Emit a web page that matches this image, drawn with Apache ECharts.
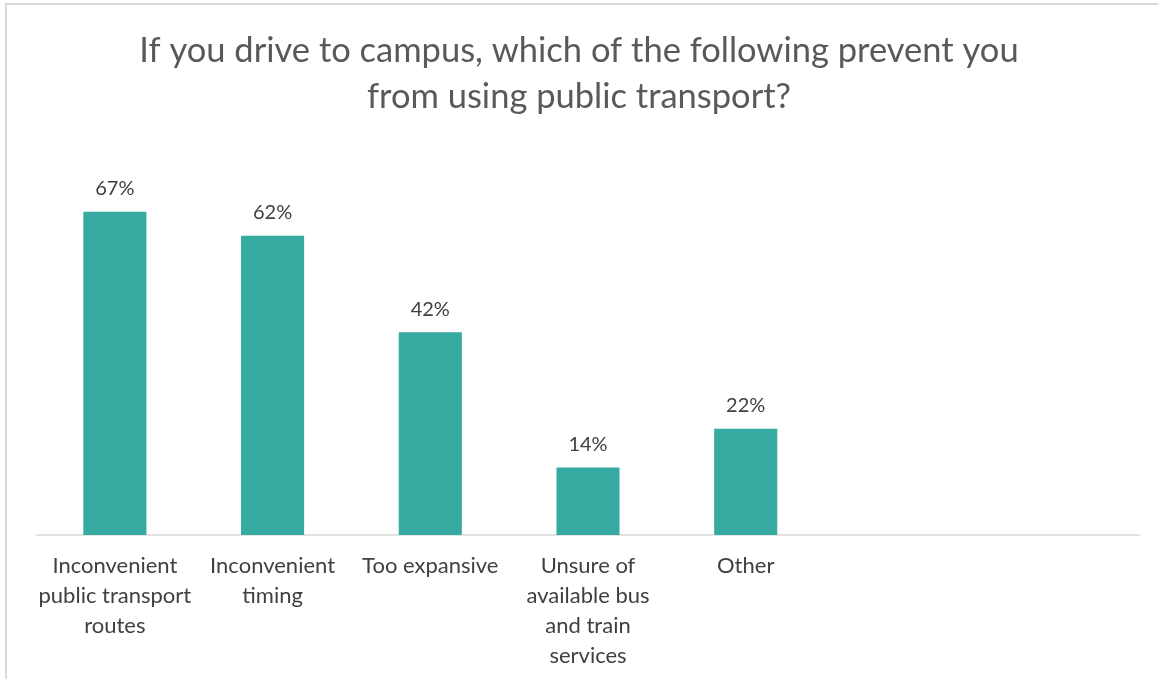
<!DOCTYPE html>
<html>
<head>
<meta charset="utf-8">
<script src="https://cdn.jsdelivr.net/npm/echarts@6/dist/echarts.min.js"></script>
<style>
  html, body { margin: 0; padding: 0; background: #ffffff; }
  #chart { width: 1158px; height: 679px; }
</style>
</head>
<body>
<div id="chart"></div>
<script>
// Survey answers (share of respondents who drive); two trailing empty slots keep the Excel-style spacing
const categories = [
  'Inconvenient\npublic transport\nroutes',
  'Inconvenient\ntiming',
  'Too expansive',
  'Unsure of\navailable bus\nand train\nservices',
  'Other',
  '',
  ''
];
const shares = [67, 62, 42, 14, 22];

const titleText = 'If you drive to campus, which of the following prevent you\nfrom using public transport?';
const FONT = 'Lato, "Open Sans", sans-serif';

const chart = echarts.init(document.getElementById('chart'), null, { renderer: 'canvas' });

chart.setOption({
  backgroundColor: '#ffffff',
  animation: false,
  graphic: [{
    type: 'rect',
    shape: { x: 6, y: 4, width: 1200, height: 720 },
    style: { fill: 'none', stroke: '#d9d9d9', lineWidth: 2 },
    silent: true,
    z: -1
  }],
  title: {
    text: titleText,
    left: 'center',
    top: 23,
    textStyle: {
      fontFamily: FONT,
      fontSize: 34.5,
      fontWeight: 'normal',
      color: '#595959',
      lineHeight: 46
    }
  },
  grid: { left: 36, right: 18, top: 149, bottom: 144, containLabel: false },
  xAxis: {
    type: 'category',
    data: categories,
    axisLine: { show: true, lineStyle: { color: '#d9d9d9', width: 1.5 } },
    axisTick: { show: false },
    axisLabel: {
      interval: 0,
      margin: 16,
      fontFamily: FONT,
      fontSize: 22,
      lineHeight: 30,
      color: '#404040',
      align: 'center'
    }
  },
  yAxis: {
    type: 'value',
    min: 0,
    max: 80,
    show: false,
    splitLine: { show: false }
  },
  series: [{
    type: 'bar',
    data: shares,
    barWidth: '40%',
    itemStyle: { color: '#36a9a0' },
    label: {
      show: true,
      position: 'top',
      distance: 13,
      formatter: p => p.value + '%',
      fontFamily: FONT,
      fontSize: 20,
      color: '#404040'
    }
  }]
});
</script>
</body>
</html>
